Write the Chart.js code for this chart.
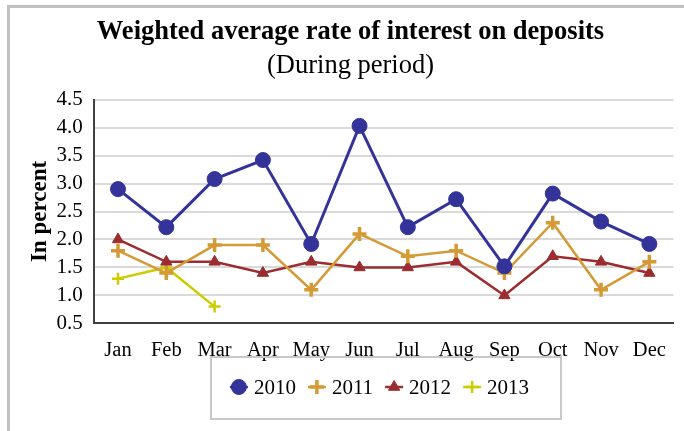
<!DOCTYPE html>
<html>
<head>
<meta charset="utf-8">
<script src="https://cdn.jsdelivr.net/npm/chart.js@4"></script>
<style>
  body { margin: 0; background: #fff; }
  #wrap { width: 684px; height: 431px; position: relative; }
</style>
</head>
<body>
<div id="wrap"><canvas id="rateChart" width="684" height="431"></canvas></div>
<script>
const months = ["Jan", "Feb", "Mar", "Apr", "May", "Jun", "Jul", "Aug", "Sep", "Oct", "Nov", "Dec"];
const rates2010 = [2.9, 2.22, 3.08, 3.42, 1.92, 4.03, 2.22, 2.72, 1.52, 2.82, 2.32, 1.92];
const rates2011 = [1.8, 1.4, 1.9, 1.9, 1.1, 2.1, 1.7, 1.8, 1.4, 2.3, 1.1, 1.6];
const rates2012 = [2.0, 1.6, 1.6, 1.4, 1.6, 1.5, 1.5, 1.6, 1.0, 1.7, 1.6, 1.4];
const rates2013 = [1.3, 1.5, 0.8, null, null, null, null, null, null, null, null, null];
const yTicks = [0.5, 1.0, 1.5, 2.0, 2.5, 3.0, 3.5, 4.0, 4.5];

const serif = "'Liberation Serif', 'Times New Roman', serif";
const legendFont = "21px " + serif;

// gray frame on the left and top, and an Excel style boxed legend
const framePlugin = {
  id: "frame",
  beforeDraw(chart) {
    const ctx = chart.ctx;
    ctx.save();
    ctx.fillStyle = "#c0c0c0";
    ctx.fillRect(7, 5, 3, 426);
    ctx.fillRect(7, 5, 677, 3);
    ctx.restore();
  },
  afterDraw(chart) {
    const ctx = chart.ctx;
    const sets = chart.data.datasets;
    const cy = 387;
    const markerW = 16, gapText = 7, gapItem = 13;
    ctx.save();
    ctx.font = legendFont;
    const widths = sets.map(ds => markerW + gapText + ctx.measureText(ds.label).width);
    const total = widths.reduce((a, b) => a + b, 0) + gapItem * (sets.length - 1);
    let x = 380 - total / 2;

    ctx.strokeStyle = "#c8c8c8";
    ctx.lineWidth = 2;
    ctx.strokeRect(Math.round(x - 20), cy - 30, Math.round(total + 52), 62);

    sets.forEach((ds, i) => {
      const mx = x + markerW / 2;
      ctx.strokeStyle = ds.borderColor;
      ctx.lineWidth = 2.5;
      ctx.beginPath();
      ctx.moveTo(mx - 9, cy);
      ctx.lineTo(mx + 9, cy);
      ctx.stroke();
      ctx.fillStyle = ds.backgroundColor;
      ctx.lineWidth = ds.pointBorderWidth;
      Chart.helpers.drawPoint(ctx, {
        pointStyle: ds.pointStyle,
        radius: ds.pointRadius,
        borderWidth: ds.pointBorderWidth,
        rotation: 0
      }, mx, cy);
      ctx.fillStyle = "#000";
      ctx.textBaseline = "middle";
      ctx.textAlign = "left";
      ctx.fillText(ds.label, x + markerW + gapText, cy + 1);
      x += widths[i] + gapItem;
    });
    ctx.restore();
  }
};

new Chart(document.getElementById("rateChart"), {
  type: "line",
  data: {
    labels: months,
    datasets: [
      {
        label: "2010",
        data: rates2010,
        borderColor: "#333399",
        backgroundColor: "#333399",
        borderWidth: 3,
        pointStyle: "circle",
        pointRadius: 7.5,
        pointBorderWidth: 1
      },
      {
        label: "2011",
        data: rates2011,
        borderColor: "#d39a36",
        backgroundColor: "#d39a36",
        borderWidth: 2.5,
        pointStyle: "cross",
        pointRadius: 7,
        pointBorderWidth: 3.5
      },
      {
        label: "2012",
        data: rates2012,
        borderColor: "#9b2c2f",
        backgroundColor: "#9b2c2f",
        borderWidth: 2.5,
        pointStyle: "triangle",
        pointRadius: 6.5,
        pointBorderWidth: 1
      },
      {
        label: "2013",
        data: rates2013,
        borderColor: "#cccc00",
        backgroundColor: "#cccc00",
        borderWidth: 2.5,
        pointStyle: "cross",
        pointRadius: 6,
        pointBorderWidth: 2.5
      }
    ]
  },
  options: {
    responsive: false,
    devicePixelRatio: 1,
    animation: false,
    layout: { padding: { left: 26, right: 9, top: 0, bottom: 53 } },
    plugins: {
      title: {
        display: true,
        text: "Weighted average rate of interest on deposits",
        color: "#000",
        font: { family: serif, size: 26.5, weight: "bold" },
        padding: { top: 16, bottom: 0 }
      },
      subtitle: {
        display: true,
        text: "(During period)",
        color: "#000",
        font: { family: serif, size: 26.5 },
        padding: { top: 2, bottom: 18 }
      },
      legend: { display: false },
      tooltip: { enabled: false }
    },
    scales: {
      x: {
        offset: true,
        grid: { display: false, drawTicks: false },
        border: { color: "#404040", width: 2 },
        ticks: { color: "#000", font: { family: serif, size: 20.5 }, padding: 15, maxRotation: 0, autoSkip: false }
      },
      y: {
        min: 0.5,
        max: 4.5,
        afterBuildTicks(axis) {
          axis.ticks = yTicks.map(v => ({ value: v }));
        },
        grid: { color: "#d9d9d9", lineWidth: 2, drawTicks: false },
        border: { color: "#404040", width: 2 },
        ticks: {
          color: "#000",
          font: { family: serif, size: 21 },
          padding: 11,
          autoSkip: false,
          callback: v => v.toFixed(1)
        },
        title: {
          display: true,
          text: "In percent",
          color: "#000",
          font: { family: serif, size: 23, weight: "bold" },
          padding: { top: 0, bottom: -8 }
        }
      }
    }
  },
  plugins: [framePlugin]
});
</script>
</body>
</html>
